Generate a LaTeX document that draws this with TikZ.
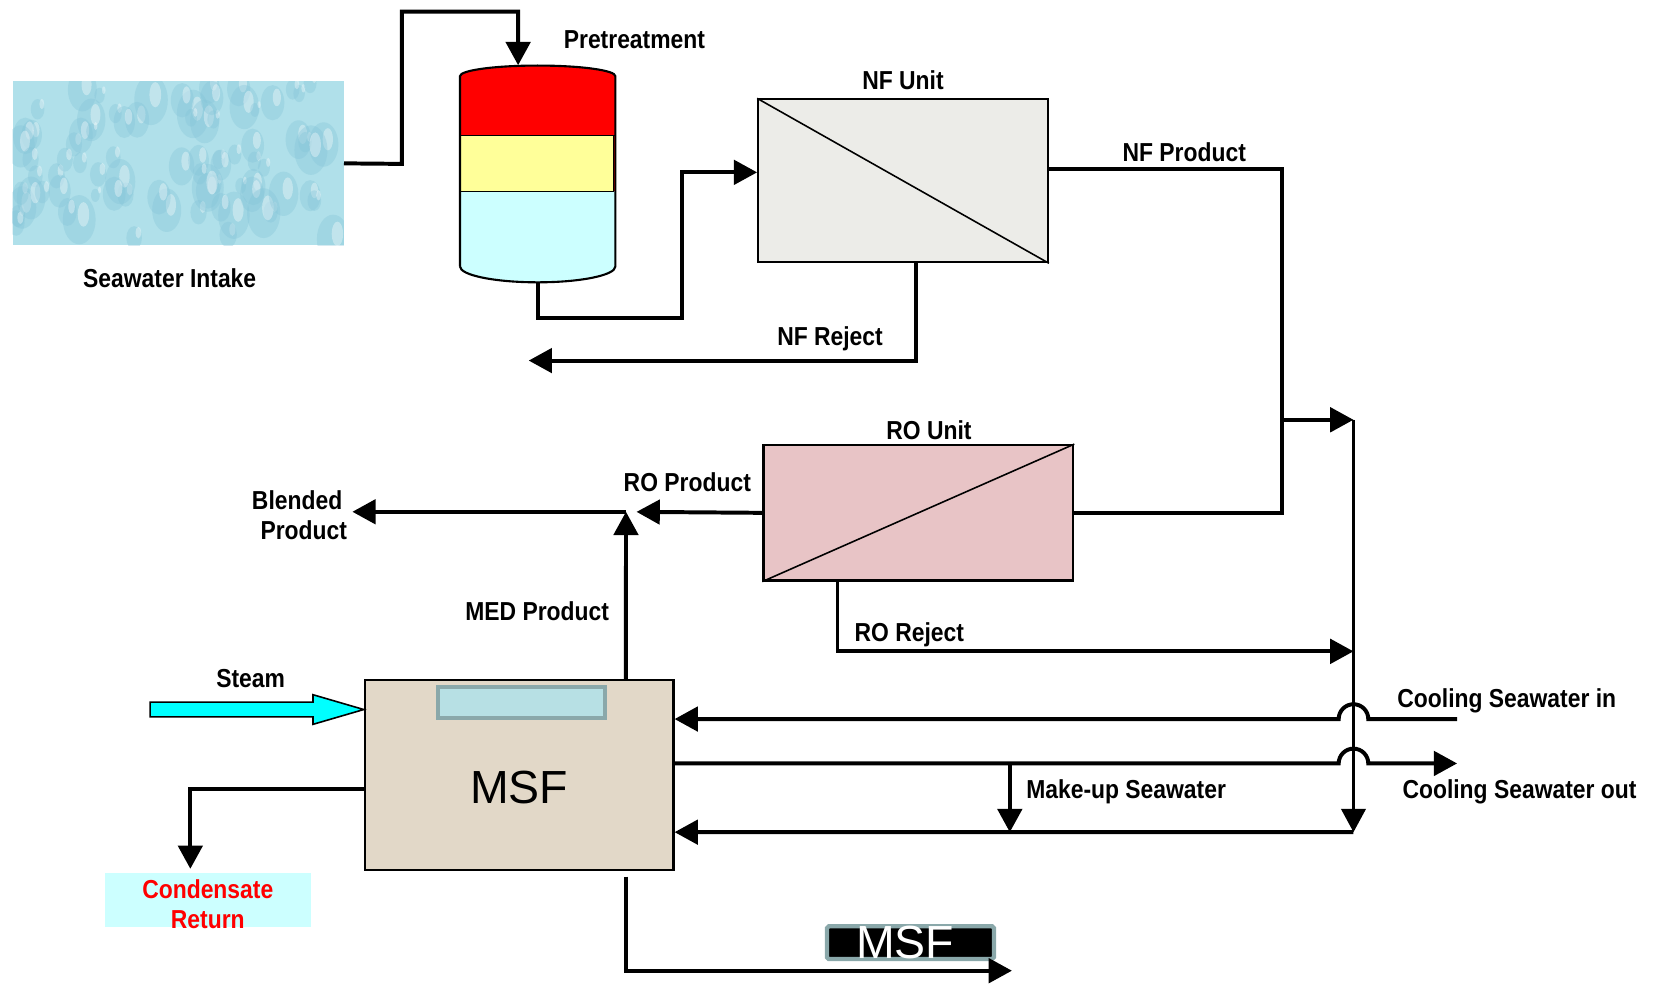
\documentclass[tikz,border=0pt]{standalone}
\usepackage{fontspec}
\setmainfont{Liberation Sans}[FakeStretch=0.88]
\newfontfamily\widesans{Liberation Sans}
\usetikzlibrary{arrows.meta,positioning}

\definecolor{seablue}{RGB}{176,224,234}
\definecolor{dropblue}{RGB}{132,196,216}
\definecolor{tankred}{RGB}{255,0,0}
\definecolor{tankyellow}{RGB}{255,255,153}
\definecolor{tankcyan}{RGB}{204,255,255}
\definecolor{nfgray}{RGB}{236,236,232}
\definecolor{ropink}{RGB}{232,196,198}
\definecolor{msfbeige}{RGB}{226,216,200}
\definecolor{winfill}{RGB}{183,224,228}
\definecolor{winedge}{RGB}{138,168,170}
\definecolor{steamcyan}{RGB}{0,255,255}

\begin{document}
\begin{tikzpicture}[x=0.02cm,y=-0.02cm,
    pipe/.style={line width=0.075cm},
    flow/.style={pipe,-{Triangle[length=0.44cm,width=0.46cm]}},
    unit/.style={draw,line width=0.04cm,inner sep=0pt},
    lbl/.style={font=\bfseries\fontsize{14}{16}\selectfont,inner sep=1pt,align=center}]

  \useasboundingbox (0,0) rectangle (1568,932);

  % seawater intake with droplets
  \node[fill=seablue,minimum width=6.26cm,minimum height=3.1cm,inner sep=0pt] (intake) at (168.5,154.5) {};
  \begin{scope}
    \clip (intake.south west) rectangle (intake.north east);
    \pgfmathsetseed{11}
    \foreach \i in {1,...,80}{
      \pgfmathsetmacro{\dx}{15+rnd*305}
      \pgfmathsetmacro{\dy}{78+rnd*152}
      \pgfmathsetmacro{\dr}{0.08+rnd*0.24}
      \pgfmathsetmacro{\dh}{\dr*1.5}
      \fill[dropblue,opacity=0.35] (\dx,\dy) ellipse[x radius=\dr cm,y radius=\dh cm];
      \fill[white,opacity=0.35] (\dx+4,\dy-5) ellipse[x radius=0.35*\dr cm,y radius=0.5*\dh cm];
    }
  \end{scope}
  \node[lbl,below=0.4cm of intake,xshift=-0.16cm] (intakelbl) {Seawater Intake};

  % pretreatment vessel
  \node[minimum width=2.94cm,minimum height=4.1cm,inner sep=0pt] (tank) at (508.5,164.5) {};
  \fill[tankred] (435,181) -- (435,72) arc[start angle=180,end angle=0,x radius=1.47cm,y radius=0.2cm] -- (582,181) -- cycle;
  \fill[tankyellow] (435,128) rectangle (580,181);
  \fill[tankcyan] (435,181) -- (435,252) arc[start angle=180,end angle=360,x radius=1.47cm,y radius=0.3cm] -- (582,181) -- cycle;
  \draw[line width=0.04cm] (435,252) -- (435,72) arc[start angle=180,end angle=0,x radius=1.47cm,y radius=0.2cm]
    -- (582,252) arc[start angle=0,end angle=-180,x radius=1.47cm,y radius=0.3cm];
  \draw[line width=0.03cm] (435,128) -- (582,128) (435,181) -- (580,181) -- (580,128);
  \node[lbl] (tanklbl) at (600,38) {Pretreatment};

  % membrane units
  \node[unit,fill=nfgray,minimum width=5.48cm,minimum height=3.08cm] (nf) at (854,171) {};
  \draw[line width=0.03cm] (nf.north west) -- (nf.south east);
  \node[lbl,above=0.12cm of nf] (nflbl) {NF Unit};

  \node[unit,fill=ropink,minimum width=5.86cm,minimum height=2.56cm] (ro) at (868.5,485) {};
  \draw[line width=0.03cm] (ro.south west) -- (ro.north east);
  \node[lbl,above=0.04cm of ro,xshift=0.2cm] (rolbl) {RO Unit};

  % MSF plant
  \node[unit,fill=msfbeige,minimum width=5.84cm,minimum height=3.6cm] (msf) at (491,733) {};
  \node[fill=winfill,draw=winedge,line width=0.08cm,minimum width=3.16cm,minimum height=0.58cm,inner sep=0pt] (msfwin) at (493,664.5) {};
  \node[font=\widesans\fontsize{25}{28}\selectfont] (msftxt) at (491,745) {MSF};

  \node[fill=tankcyan,minimum width=3.9cm,minimum height=1.02cm,inner sep=0pt] (cond) at (196.5,851.5) {};
  \node[lbl,text=red] (condlbl) at (196.5,855) {Condensate\\Return};

  \node[fill=black,draw=winedge,line width=0.08cm,rounded corners=1pt,minimum width=3.16cm,minimum height=0.62cm,inner sep=0pt] (msfbar) at (861,891.5) {};
  \node[font=\widesans\fontsize{25}{28}\selectfont,text=white,inner sep=0pt] (msfbartxt) at (856,891) {MSF};

  % free ends and junctions
  \coordinate (nfrej) at (500,341);
  \coordinate (nfdrop) at (1212,397);
  \coordinate (railtop) at (1280,397);
  \coordinate (railbot) at (1280,787);
  \coordinate (rorej) at (1280,616);
  \coordinate (blend) at (592,484);
  \coordinate (cwin) at (1378,680);
  \coordinate (cwout) at (1378,722);
  \coordinate (mkup) at (955,722);
  \coordinate (msfout) at (957,918);

  % feed line
  \draw[flow] (intake.east) -- (380,155) -- (380,11) -| ([xshift=-0.37cm]tank.north);
  \draw[flow] (tank.south) |- (645,301) |- ([yshift=0.16cm]nf.west);

  % NF outlets
  \draw[flow] ([xshift=0.24cm]nf.south) |- (nfrej);
  \node[lbl] (nfrejlbl) at (785,320) {NF Reject};
  \draw[pipe] ([yshift=0.22cm]nf.east) -| (nfdrop) |- (ro.east);
  \node[lbl] (nfprodlbl) at (1120,144) {NF Product};
  \draw[flow] (nfdrop) -- (railtop);
  \draw[flow,line width=0.055cm] (railtop) -- (railbot);

  % RO outlets
  \draw[flow,shorten >=0.2cm] (ro.west) -- (blend);
  \node[lbl] (roprodlbl) at (650,456) {RO Product};
  \draw[flow] ([xshift=1.42cm]ro.south west) |- (rorej);
  \node[lbl] (rorejlbl) at (860,600) {RO Reject};

  % blended product
  \node[lbl] (blended) at (281,487) {Blended\\\hspace*{0.25cm}Product};
  \draw[flow] (blend) -- ([xshift=0.06cm]blended.east |- blend);
  \draw[flow] ([xshift=2.02cm]msf.north) -- (blend);
  \node[lbl] (medlbl) at (508,578) {MED Product};

  % steam and condensate
  \draw[line width=0.03cm,fill=steamcyan] ([yshift=1.24cm]msf.west) coordinate (steamtip)
    -- ++(-48,-14) -- ++(0,7) -- ++(-154,0) -- ++(0,14) -- ++(154,0) -- ++(0,7) -- cycle;
  \node[lbl] (steamlbl) at (237,642) {Steam};
  \draw[flow,shorten >=0.08cm] ([yshift=-0.26cm]msf.west) -| ([xshift=-0.33cm]cond.north);

  % cooling seawater loop, hopping over the rail
  \draw[flow] (cwin) -- (1294,680) arc[start angle=0,end angle=180,radius=0.28cm] -- ([yshift=1.06cm]msf.east);
  \node[lbl] (cwinlbl) at (1425,663) {Cooling Seawater in};
  \draw[flow] ([yshift=0.22cm]msf.east) -- (1266,722) arc[start angle=180,end angle=0,radius=0.28cm] -- (cwout);
  \node[lbl] (cwoutlbl) at (1437,749) {Cooling Seawater out};
  \draw[flow] (mkup) -- (mkup |- railbot);
  \node[lbl] (mkuplbl) at (1065,749) {Make-up Seawater};
  \draw[flow] (railbot) -- ([yshift=-1.08cm]msf.east);

  % brine out
  \draw[flow] ([xshift=2.02cm,yshift=-0.1cm]msf.south) |- (msfout);
\end{tikzpicture}
\end{document}
